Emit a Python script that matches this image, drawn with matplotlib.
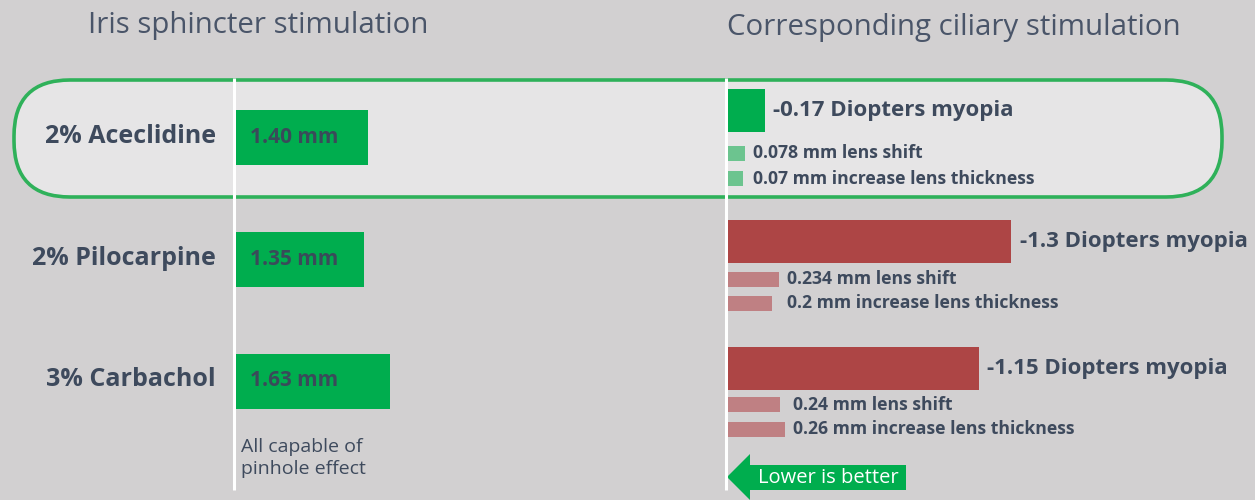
import matplotlib
matplotlib.use("Agg")

import matplotlib.pyplot as plt
from matplotlib.patches import FancyBboxPatch, Polygon

# ---------------------------------------------------------------------------
# Data
# ---------------------------------------------------------------------------
drugs = ["2% Aceclidine", "2% Pilocarpine", "3% Carbachol"]
pupil_mm = [1.40, 1.35, 1.63]
myopia_d = [0.17, 1.3, 1.15]
lens_shift_mm = [0.078, 0.234, 0.24]
lens_thick_mm = [0.07, 0.2, 0.26]

pupil_labels = ["1.40 mm", "1.35 mm", "1.63 mm"]
myopia_labels = ["-0.17 Diopters myopia", "-1.3 Diopters myopia", "-1.15 Diopters myopia"]
shift_labels = ["0.078 mm lens shift", "0.234 mm lens shift", "0.24 mm lens shift"]
thick_labels = ["0.07 mm increase lens thickness", "0.2 mm increase lens thickness",
                "0.26 mm increase lens thickness"]
better = [True, False, False]

# ---------------------------------------------------------------------------
# Style
# ---------------------------------------------------------------------------
BG = "#d2d0d1"
BOX_FILL = "#e6e5e6"
GREEN = "#00ad4e"
GREEN_LIGHT = "#6cc48f"
RED = "#ad4545"
RED_LIGHT = "#bf8083"
TEXT = "#3e4a5d"
TITLE = "#4a5569"
FONT = ["Open Sans", "DejaVu Sans"]

W, H = 1255, 500
plt.rcParams["font.family"] = FONT

fig = plt.figure(figsize=(W / 100, H / 100), dpi=100, facecolor=BG)

# overlay in pixel coordinates for decorations
ov = fig.add_axes([0, 0, 1, 1], zorder=0)
ov.set_xlim(0, W)
ov.set_ylim(H, 0)
ov.axis("off")

# highlight pill around the first row
pill = FancyBboxPatch((14, 80), 1208, 117,
                      boxstyle="round,pad=0,rounding_size=56",
                      facecolor=BOX_FILL, edgecolor="#2fb15a", linewidth=2.6)
ov.add_patch(pill)

# white axis lines
ov.plot([234, 234], [78, 490], color="white", lw=2.2, solid_capstyle="butt")
ov.plot([726, 726], [78, 490], color="white", lw=2.2, solid_capstyle="butt")

# titles
ov.text(88, 25, "Iris sphincter stimulation", ha="left", va="center",
        fontsize=21.2, color=TITLE)
ov.text(727, 27, "Corresponding ciliary stimulation", ha="left", va="center",
        fontsize=21.2, color=TITLE)

ov.text(241, 447, "All capable of", ha="left", va="center", fontsize=14, color=TEXT)
ov.text(241, 469, "pinhole effect", ha="left", va="center", fontsize=14, color=TEXT)

# "Lower is better" arrow
arrow = Polygon([(727, 477), (750, 454), (750, 465), (906, 465), (906, 490),
                 (750, 490), (750, 500), (727, 477)],
                closed=True, facecolor=GREEN, edgecolor="none")
ov.add_patch(arrow)
ov.text(758, 478, "Lower is better", ha="left", va="center", fontsize=14.5,
        color="white")

# ---------------------------------------------------------------------------
# Left: iris sphincter (pupil constriction, mm)
# ---------------------------------------------------------------------------
left_rows = [137.5, 259.5, 381]
L0, L1 = 236, 700
axl = fig.add_axes([L0 / W, 0, (L1 - L0) / W, 1], zorder=1)
axl.set_xlim(0, (L1 - L0) / 94.5)
axl.set_ylim(H, 0)
axl.axis("off")
axl.patch.set_alpha(0)

axl.barh(left_rows, pupil_mm, height=55, left=0, color=GREEN, align="center")
for y, lab in zip(left_rows, pupil_labels):
    axl.annotate(lab, xy=(0, y), xytext=(10, 0), textcoords="offset points",
                 ha="left", va="center", fontsize=15, fontweight="bold",
                 color="#3a4a5a")

for y, name in zip(left_rows, drugs):
    ov.text(216, y - 1, name, ha="right", va="center", fontsize=18,
            fontweight="bold", color=TEXT)

# ---------------------------------------------------------------------------
# Right: ciliary stimulation
# ---------------------------------------------------------------------------
R0, R1 = 728, W
axr = fig.add_axes([R0 / W, 0, (R1 - R0) / W, 1], zorder=1)
axr.set_xlim(0, (R1 - R0) / 218)
axr.set_ylim(H, 0)
axr.axis("off")
axr.patch.set_alpha(0)

myo_rows = [110.5, 241.5, 368.5]
shift_rows = [153, 279.5, 404.5]
thick_rows = [178.5, 303.5, 429]

for i in range(len(drugs)):
    c_main = GREEN if better[i] else RED
    c_light = GREEN_LIGHT if better[i] else RED_LIGHT
    axr.barh(myo_rows[i], myopia_d[i], height=43, color=c_main)
    axr.barh(shift_rows[i], lens_shift_mm[i], height=15, color=c_light)
    axr.barh(thick_rows[i], lens_thick_mm[i], height=15, color=c_light)

    axr.annotate(myopia_labels[i], xy=(myopia_d[i], myo_rows[i]), xytext=(6, 0),
                 textcoords="offset points", ha="left", va="center",
                 fontsize=16, fontweight="bold", color=TEXT)
    xs = max(lens_shift_mm[i], lens_thick_mm[i])
    axr.annotate(shift_labels[i], xy=(xs, shift_rows[i]), xytext=(6, 0),
                 textcoords="offset points", ha="left", va="center",
                 fontsize=12.7, fontweight="bold", color=TEXT)
    axr.annotate(thick_labels[i], xy=(xs, thick_rows[i]), xytext=(6, 0),
                 textcoords="offset points", ha="left", va="center",
                 fontsize=12.7, fontweight="bold", color=TEXT)

fig.savefig("out.png", dpi=100, facecolor=BG)
